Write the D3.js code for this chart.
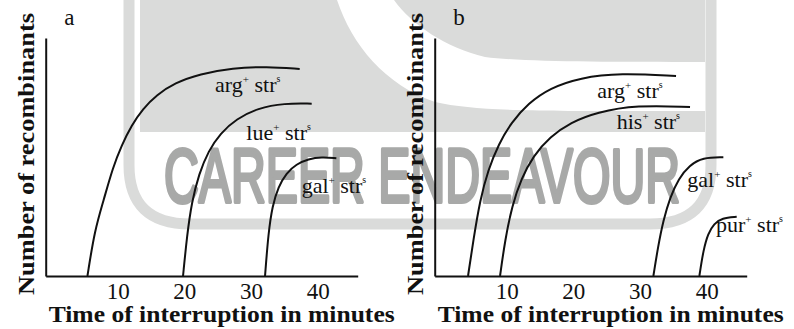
<!DOCTYPE html>
<html>
<head>
<meta charset="utf-8">
<script src="https://cdn.jsdelivr.net/npm/d3@7/dist/d3.min.js"></script>
<style>
  body { margin: 0; background: #fff; }
  svg text { font-family: "Liberation Serif", Tinos, "Times New Roman", Times, "Nimbus Roman", serif; fill: #111; }
</style>
</head>
<body>
<svg id="chart" width="794" height="329"></svg>
<script>
// ---------------------------------------------------------------
// data (time in minutes, recombinants in %)
// ---------------------------------------------------------------
const tickLabels = [10, 20, 30, 40];

// panel a
const argA_t = [5.46, 6.55, 7.9, 9.25, 10.6, 12.1, 13.75, 15.85, 18.55, 22.3, 27.25, 32.35, 37.3];
const argA_v = [0, 19.3, 31.9, 45.4, 55, 63.4, 70.2, 76.1, 81.1, 84.9, 87.4, 88, 87];
const lueA_t = [19.8, 20.4, 21.1, 22.2, 23.6, 25.4, 27.8, 31.0, 35.0, 39.1];
const lueA_v = [0, 17, 31, 43, 52.5, 60, 66, 70.5, 72.6, 72.4];
const galA_t = [32.1, 32.6, 33.2, 34.1, 35.3, 36.8, 38.6, 40.6, 42.8];
const galA_v = [0, 18, 29.5, 37.5, 43.3, 47, 49.2, 50, 49.5];

// panel b
const argB_t = [4.2, 5.0, 6.0, 7.2, 8.8, 10.7, 13.2, 16.5, 21.0, 27.0, 35.4];
const argB_v = [0, 15.1, 31.9, 44.5, 55.5, 64.5, 72.5, 79, 83.3, 85.3, 84];
const hisB_t = [9.0, 9.75, 10.8, 12.2, 14.0, 16.5, 19.6, 23.5, 29.5, 37.5];
const hisB_v = [0, 15, 29.5, 41, 50.5, 58.5, 64.5, 68.8, 71.8, 71];
const galB_t = [32.0, 32.7, 33.5, 34.5, 35.8, 37.4, 39.4, 42.5];
const galB_v = [0, 12.3, 23.5, 33, 41, 46.5, 49.8, 49.9];
const purB_t = [38.9, 39.5, 40.2, 41.1, 42.3, 44.5];
const purB_v = [0, 10.9, 17.9, 22, 24.4, 24.9];

// curve labels: gene name, anchor (t, v) in data units
const labelsA = [
  { gene: "arg", t: 24.6, v: 77.4 },
  { gene: "lue", t: 29.3, v: 57.1 },
  { gene: "gal", t: 37.6, v: 34.7 }
];
const labelsB = [
  { gene: "arg", t: 23.6, v: 74.7 },
  { gene: "his", t: 26.5, v: 61.6 },
  { gene: "gal", t: 37.1, v: 37.5 },
  { gene: "pur", t: 41.4, v: 18.6 }
];

const zip = (ts, vs) => ts.map((t, i) => ({ t: t, v: vs[i] }));

const svg = d3.select("#chart");

// ---------------------------------------------------------------
// faint publisher watermark behind the figure
// ---------------------------------------------------------------
const wm = svg.append("g").attr("class", "watermark");
const wmGray = "#dadbda";
wm.append("path")
  .attr("d", "M140,0 H705 V132 H140 Z")
  .attr("fill", wmGray);
// white swoosh cutting through the top block
wm.append("path")
  .attr("d", "M337,0 C352,45 385,85 435,102 C480,112 540,111 705,111 V62 C600,62 525,62 485,57 C445,47 412,25 394,0 Z")
  .attr("fill", "#fff");
// outer rounded frame
wm.append("path")
  .attr("d", "M129,0 V165 Q129,224 190,224 H650 Q711,224 711,165 V0")
  .attr("fill", "none")
  .attr("stroke", wmGray)
  .attr("stroke-width", 11);
wm.append("text")
  .attr("x", 164)
  .attr("y", 202)
  .attr("textLength", 516)
  .attr("lengthAdjust", "spacingAndGlyphs")
  .style("font-family", "'Liberation Sans Narrow', 'Liberation Sans', Arimo, 'DejaVu Sans Condensed', sans-serif")
  .style("font-weight", "normal")
  .style("font-size", "76px")
  .style("fill", "#a8a9a8")
  .style("stroke", "#a8a9a8")
  .style("stroke-width", 4)
  .style("stroke-linejoin", "round")
  .text("CAREER ENDEAVOUR");

// ---------------------------------------------------------------
// one panel
// ---------------------------------------------------------------
function drawPanel(left, letter, series, labels) {
  const x = d3.scaleLinear().domain([-0.8, 46]).range([left, left + 312]);
  const y = d3.scaleLinear().domain([0, 100]).range([276, 38]);
  const g = svg.append("g");

  const xAxis = g.append("g")
    .attr("transform", "translate(0,276)")
    .call(d3.axisBottom(x).tickValues(tickLabels).tickSize(0).tickSizeOuter(0).tickPadding(7));
  const yAxis = g.append("g")
    .attr("transform", `translate(${left},0)`)
    .call(d3.axisLeft(y).tickValues([]).tickSizeOuter(0));
  [xAxis, yAxis].forEach(a => {
    a.attr("font-family", null).attr("font-size", null);
    a.select(".domain").attr("stroke", "#111").attr("stroke-width", 2);
  });
  xAxis.selectAll(".tick text")
    .attr("fill", "#111")
    .style("font-size", "23px");

  const line = d3.line()
    .x(d => x(d.t))
    .y(d => y(d.v))
    .curve(d3.curveBasis);

  g.selectAll("path.curve")
    .data(series)
    .enter().append("path")
    .attr("class", "curve")
    .attr("d", d => line(d))
    .attr("fill", "none")
    .attr("stroke", "#111")
    .attr("stroke-width", 2);

  // gene⁺ strˢ labels
  const lab = g.selectAll("text.lab")
    .data(labels)
    .enter().append("text")
    .attr("class", "lab")
    .attr("x", d => x(d.t))
    .attr("y", d => y(d.v))
    .style("font-size", "22px");
  lab.append("tspan").text(d => d.gene);
  lab.append("tspan").attr("dy", -9).style("font-size", "11px").text("+");
  lab.append("tspan").attr("dy", 9).text(" str");
  lab.append("tspan").attr("dy", -10).style("font-size", "10px").text("s");

  // panel letter
  g.append("text")
    .attr("x", x(2.0))
    .attr("y", 25)
    .style("font-size", "23px")
    .text(letter);

  // axis titles
  g.append("text")
    .attr("x", left + 3)
    .attr("y", 321.5)
    .attr("textLength", 346)
    .attr("lengthAdjust", "spacingAndGlyphs")
    .style("font-size", "23px")
    .style("font-weight", "bold")
    .text("Time of interruption in minutes");

  g.append("text")
    .attr("transform", `translate(${left - 12},295) rotate(-90)`)
    .attr("textLength", 282)
    .attr("lengthAdjust", "spacingAndGlyphs")
    .style("font-size", "23px")
    .style("font-weight", "bold")
    .text("Number of recombinants");
}

drawPanel(45.7, "a",
  [zip(argA_t, argA_v), zip(lueA_t, lueA_v), zip(galA_t, galA_v)], labelsA);
drawPanel(434.7, "b",
  [zip(argB_t, argB_v), zip(hisB_t, hisB_v), zip(galB_t, galB_v), zip(purB_t, purB_v)], labelsB);
</script>
</body>
</html>
